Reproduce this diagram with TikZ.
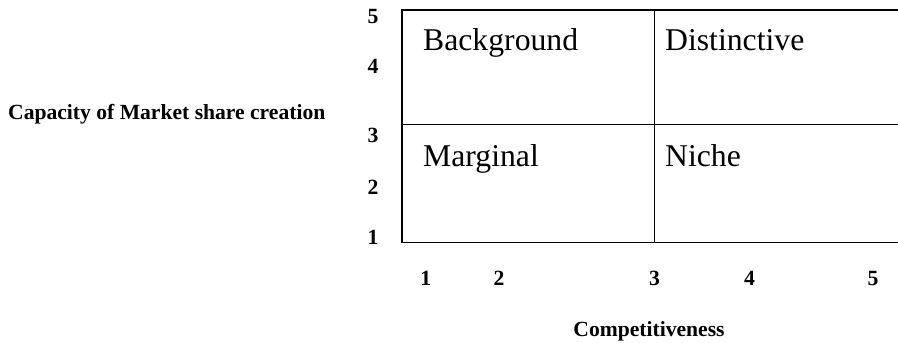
\documentclass[tikz,border=0pt]{standalone}
\usepackage{fontspec}
\setmainfont{Liberation Serif}
\begin{document}
\begin{tikzpicture}[x=1pt,y=-1pt,
  gridline/.style={line width=1.9pt,black},
  quad/.style={anchor=base west,inner sep=0pt,font=\fontsize{31.7}{36}\selectfont},
  tick/.style={anchor=center,inner sep=0pt,font=\fontsize{21.7}{25}\selectfont\bfseries},
  axislabel/.style={anchor=base,inner sep=0pt,font=\fontsize{21.6}{25}\selectfont\bfseries}]
\useasboundingbox (0,0) rectangle (898,343);
% grid
\coordinate (tl) at (401.7,10);
\coordinate (tr) at (898,10);
\coordinate (ml) at (401.7,124.5);
\coordinate (mr) at (898,124.5);
\coordinate (bl) at (401.7,242.5);
\coordinate (br) at (898,242.5);
\coordinate (dt) at (654.5,10);
\coordinate (db) at (654.5,242.5);
\draw[gridline] (tr) -- (tl) -- (bl) -- (br);
\draw[gridline] (ml) -- (mr);
\draw[gridline] (dt) -- (db);
% quadrant labels
\node[quad] (bg) at (423,50.5) {Background};
\node[quad] (di) at (665,50.5) {Distinctive};
\node[quad] (ma) at (423,166) {Marginal};
\node[quad] (ni) at (665,166) {Niche};
% y ticks
\node[tick] (y5) at (373,16.5) {5};
\node[tick] (y4) at (373,66) {4};
\node[tick] (y3) at (373,135) {3};
\node[tick] (y2) at (373,187.5) {2};
\node[tick] (y1) at (373,237) {1};
% x ticks
\node[tick] (x1) at (425.7,278) {1};
\node[tick] (x2) at (499,278) {2};
\node[tick] (x3) at (654.5,278) {3};
\node[tick] (x4) at (749.5,278) {4};
\node[tick] (x5) at (873,278) {5};
% axis labels
\node[axislabel,anchor=base west] (ylab) at (8,119.5) {Capacity of Market share creation};
\node[axislabel] (xlab) at (649,336.5) {Competitiveness};
\end{tikzpicture}
\end{document}
